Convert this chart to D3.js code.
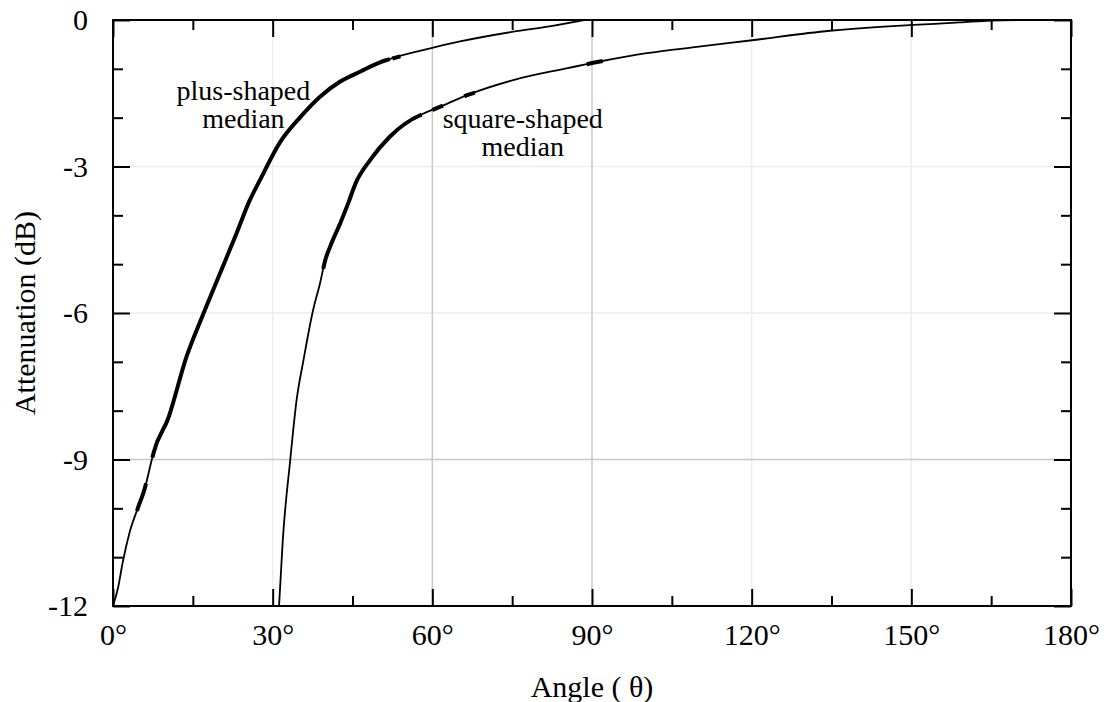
<!DOCTYPE html>
<html>
<head>
<meta charset="utf-8">
<script src="https://cdn.jsdelivr.net/npm/d3@7"></script>
<style>
  body { margin: 0; background: #fff; }
  text { font-family: "Liberation Serif", "Times New Roman", serif; fill: #000; }
</style>
</head>
<body>
<div id="chart"></div>
<script>
// data
const plusAngle = [0, 1.0, 1.8, 3.1, 4.75, 6.0, 7.6, 10.4, 13.8, 17.0, 20.1, 23.2, 25.7, 27.6, 31.4, 35.1, 38.9, 42.7, 46.4, 51.4, 59.6, 65.2, 75.2, 82.0, 88.5];
const plusDb = [-12, -11.6, -11.12, -10.5, -9.97, -9.58, -8.87, -8.15, -6.9, -6.01, -5.19, -4.37, -3.69, -3.28, -2.5, -2.0, -1.57, -1.26, -1.06, -0.82, -0.58, -0.44, -0.24, -0.13, 0];

const squareAngle = [31.2, 31.9, 33.3, 34.5, 35.8, 37.6, 38.9, 39.8, 40.8, 42.7, 44.2, 45.6, 48.3, 52.0, 57.7, 61.4, 66.5, 75.2, 85.2, 91.5, 100.3, 109.7, 119.7, 134.7, 144.1, 150.4, 159.1, 165.0, 170.4];
const squareDb = [-12, -10.65, -9.01, -7.78, -6.96, -5.94, -5.39, -4.95, -4.64, -4.16, -3.75, -3.34, -2.87, -2.39, -1.95, -1.78, -1.54, -1.23, -0.99, -0.85, -0.68, -0.55, -0.42, -0.22, -0.14, -0.10, -0.05, -0.01, 0];

const xTicks = [0, 30, 60, 90, 120, 150, 180];
const xMinor = [15, 45, 75, 105, 135, 165];
const yTicks = [-12, -9, -6, -3, 0];
const yMinor = [-11, -10, -8, -7, -5, -4, -2, -1];
const gridXStrong = [60, 90];
const gridXFaint = [30, 120, 150];
const gridYStrong = [-9];
const gridYFaint = [-6, -3];

// angle ranges where the traces are drawn heavier
const plusThick = [[4.5, 6.2], [7.4, 52], [52.5, 54]];
const squareThick = [[39.5, 58], [60, 62], [66, 68], [89, 92]];

const labels = [
  { lines: ["plus-shaped", "median"], x: 24.5, y: -1.64 },
  { lines: ["square-shaped", "median"], x: 77.0, y: -2.21 }
];

// setup dimensions
const width = 1115, height = 702;
const margin = { top: 20, right: 44, bottom: 96, left: 113 };
const chartWidth = 1071 - margin.left;
const chartHeight = 606 - margin.top;

const svg = d3.select("#chart").append("svg")
  .attr("width", width).attr("height", height);

const g = svg.append("g")
  .attr("transform", `translate(${margin.left},${margin.top})`);

const x = d3.scaleLinear().domain([0, 180]).range([0, chartWidth]);
const y = d3.scaleLinear().domain([-12, 0]).range([chartHeight, 0]);

// grid
function vgrid(vals, color) {
  g.selectAll(null).data(vals).join("line")
    .attr("x1", d => x(d)).attr("x2", d => x(d))
    .attr("y1", 0).attr("y2", chartHeight)
    .attr("stroke", color).attr("stroke-width", 1.5);
}
function hgrid(vals, color) {
  g.selectAll(null).data(vals).join("line")
    .attr("y1", d => y(d)).attr("y2", d => y(d))
    .attr("x1", 0).attr("x2", chartWidth)
    .attr("stroke", color).attr("stroke-width", 1.5);
}
vgrid(gridXFaint, "#ededed");
hgrid(gridYFaint, "#ededed");
vgrid(gridXStrong, "#c8c8c8");
hgrid(gridYStrong, "#c8c8c8");

// curves
svg.append("defs").append("clipPath").attr("id", "clip")
  .append("rect").attr("width", chartWidth).attr("height", chartHeight);

const line = d3.line().x(d => x(d.a)).y(d => y(d.v)).curve(d3.curveMonotoneX);
const zipPts = (as, vs) => as.map((a, i) => ({ a, v: vs[i] }));
const plusPts = zipPts(plusAngle, plusDb);
const squarePts = zipPts(squareAngle, squareDb);

const curveG = g.append("g").attr("clip-path", "url(#clip)");

function drawCurve(pts, thick) {
  curveG.append("path").datum(pts)
    .attr("d", line)
    .attr("fill", "none").attr("stroke", "#000")
    .attr("stroke-width", 1.8).attr("stroke-linejoin", "round");
  thick.forEach(([a0, a1]) => {
    const seg = pts.filter(d => d.a > a0 && d.a < a1);
    // end points of the heavy stretch, placed on the trace
    const at = a => {
      const i = d3.bisector(d => d.a).left(pts, a);
      if (i <= 0) return pts[0];
      if (i >= pts.length) return pts[pts.length - 1];
      const p0 = pts[i - 1], p1 = pts[i];
      const t = (a - p0.a) / (p1.a - p0.a);
      return { a, v: p0.v + t * (p1.v - p0.v) };
    };
    const s = [at(a0), ...seg, at(a1)];
    curveG.append("path").datum(s)
      .attr("d", line)
      .attr("fill", "none").attr("stroke", "#000")
      .attr("stroke-width", 4).attr("stroke-linejoin", "round");
  });
}
drawCurve(plusPts, plusThick);
drawCurve(squarePts, squareThick);

// axes (ticks pointing inward)
const major = 17, minor = 10;
const fs = "30px";

g.append("g").attr("transform", `translate(0,${chartHeight})`)
  .call(d3.axisBottom(x).tickValues(xTicks).tickSize(-major).tickPadding(18)
    .tickFormat(d => d + "°"));
g.append("g").attr("transform", `translate(0,${chartHeight})`)
  .call(d3.axisBottom(x).tickValues(xMinor).tickSize(-minor).tickFormat(""));
g.append("g")
  .call(d3.axisTop(x).tickValues(xTicks).tickSize(-major).tickFormat(""));
g.append("g")
  .call(d3.axisTop(x).tickValues(xMinor).tickSize(-minor).tickFormat(""));

const yAxis = g.append("g")
  .call(d3.axisLeft(y).tickValues(yTicks).tickSize(-major).tickPadding(25)
    .tickFormat(d3.format("d")));
g.append("g")
  .call(d3.axisLeft(y).tickValues(yMinor).tickSize(-minor).tickFormat(""));
g.append("g").attr("transform", `translate(${chartWidth},0)`)
  .call(d3.axisRight(y).tickValues(yTicks).tickSize(-major).tickFormat(""));
g.append("g").attr("transform", `translate(${chartWidth},0)`)
  .call(d3.axisRight(y).tickValues(yMinor).tickSize(-minor).tickFormat(""));

g.selectAll(".domain").remove();
g.selectAll(".tick line").attr("stroke", "#000").attr("stroke-width", 2);
g.selectAll(".tick text")
  .style("font-family", '"Liberation Serif", serif')
  .style("font-size", fs).attr("fill", "#000");

// y labels: "-12" uses a plain hyphen
yAxis.selectAll(".tick text").text(d => String(d));

// frame
g.append("rect")
  .attr("width", chartWidth).attr("height", chartHeight)
  .attr("fill", "none").attr("stroke", "#000").attr("stroke-width", 2);

// curve labels
labels.forEach(l => {
  l.lines.forEach((s, i) => {
    g.append("text")
      .attr("x", x(l.x)).attr("y", y(l.y) + i * 28)
      .attr("text-anchor", "middle")
      .style("font-size", "28px")
      .text(s);
  });
});

// axis titles
svg.append("text")
  .attr("x", margin.left + chartWidth / 2).attr("y", 697)
  .attr("text-anchor", "middle").style("font-size", fs)
  .text("Angle ( θ)");

svg.append("text")
  .attr("transform", `translate(35,${margin.top + chartHeight / 2}) rotate(-90)`)
  .attr("text-anchor", "middle").style("font-size", fs)
  .text("Attenuation (dB)");
</script>
</body>
</html>
